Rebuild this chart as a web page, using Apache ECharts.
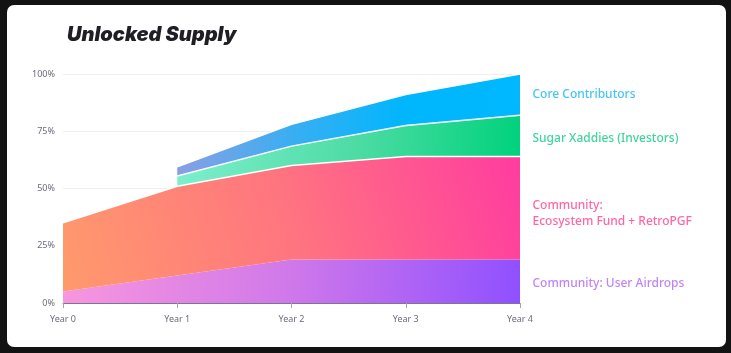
<!DOCTYPE html>
<html>
<head>
<meta charset="utf-8">
<script src="https://cdn.jsdelivr.net/npm/echarts@6/dist/echarts.min.js"></script>
<style>
html,body{margin:0;padding:0;background:#131313;width:731px;height:353px;overflow:hidden;}
#card{position:absolute;left:7px;top:5px;width:719px;height:342px;background:#fff;border-radius:7px;}
#chart{position:absolute;left:0;top:0;width:731px;height:353px;}
</style>
</head>
<body>
<div id="card"></div>
<div id="chart"></div>
<script>
const categories = ['Year 0', 'Year 1', 'Year 2', 'Year 3', 'Year 4'];
const airdrops = [5, 12, 19, 19, 19];
const ecosystem = [30, 39, 41, 45, 45];
const investors = [null, 4.5, 8.5, 13.5, 18];
const core = [null, 4, 9.5, 13.5, 18];
const yTickLabels = ['0%', '25%', '50%', '75%', '100%'];

const names = {
  airdrops: 'Community: User Airdrops',
  ecosystem: 'Community:\nEcosystem Fund + RetroPGF',
  investors: 'Sugar Xaddies (Investors)',
  core: 'Core Contributors'
};

const last = categories.length - 1;
const a4 = airdrops[last], e4 = ecosystem[last], i4 = investors[last], c4 = core[last];
const labelPoints = [
  {value: [last, a4 / 2], text: names.airdrops, color: '#b065f2', dy: 2},
  {value: [last, a4 + e4 / 2], text: names.ecosystem, color: '#ff3f8e', dy: 6},
  {value: [last, a4 + e4 + i4 / 2], text: names.investors, color: '#0ec984', dy: 3},
  {value: [last, a4 + e4 + i4 + c4 / 2], text: names.core, color: '#14b5f5', dy: 0}
];

function grad(x, y, x2, y2, stops) {
  return new echarts.graphic.LinearGradient(x, y, x2, y2, stops.map((c, i) => ({offset: i / (stops.length - 1), color: c})));
}

const chart = echarts.init(document.getElementById('chart'), null, {renderer: 'canvas'});
const whiteLine = {color: '#ffffff', width: 1.5};

chart.setOption({
  animation: false,
  title: {
    text: 'Unlocked Supply',
    left: 62, top: 20,
    textStyle: {fontFamily: 'Inter', fontSize: 20, fontWeight: 900, fontStyle: 'italic', color: '#1e1e24'}
  },
  grid: {left: 63, right: 211, top: 74, bottom: 50},
  xAxis: {
    type: 'category',
    data: categories,
    boundaryGap: false,
    axisLine: {lineStyle: {color: '#7e7592', width: 1}},
    axisTick: {show: true, length: 5, lineStyle: {color: '#a8a3b3'}},
    axisLabel: {color: '#6c6c7c', fontSize: 9, margin: 12, fontFamily: 'Noto Sans'},
    splitLine: {show: false}
  },
  yAxis: {
    type: 'value',
    min: 0, max: 100, interval: 25,
    axisLine: {show: false},
    axisTick: {show: false},
    axisLabel: {
      color: '#6c6c7c', fontSize: 9, margin: 8, fontFamily: 'Noto Sans',
      formatter: (v) => yTickLabels[Math.round(v / 25)]
    },
    splitLine: {lineStyle: {color: '#efeff2', width: 1}}
  },
  series: [
    {
      name: names.airdrops, type: 'line', stack: 'total', data: airdrops,
      symbol: 'none', lineStyle: {width: 0},
      areaStyle: {opacity: 1, color: grad(0, 0.2, 1, 0.8, ['#f896de', '#cf78ea', '#8f50ff'])}
    },
    {
      name: names.ecosystem, type: 'line', stack: 'total', data: ecosystem,
      symbol: 'none', lineStyle: whiteLine,
      areaStyle: {opacity: 1, color: grad(0, 1, 1, 0, ['#ff9a6c', '#ff7480', '#ff3ca0'])}
    },
    {
      name: names.investors, type: 'line', stack: 'total', data: investors,
      symbol: 'none', lineStyle: whiteLine, connectNulls: false,
      areaStyle: {opacity: 1, color: grad(0, 0.3, 1, 0.7, ['#7eefcd', '#50dca6', '#00d27c'])}
    },
    {
      name: names.core, type: 'line', stack: 'total', data: core,
      symbol: 'none', lineStyle: whiteLine, connectNulls: false,
      areaStyle: {opacity: 1, color: grad(0, 0.5, 1, 0.5, ['#8a9fe4', '#3aaef2', '#00b6fd', '#00b8ff'])}
    },
    {
      type: 'scatter', symbolSize: 1, itemStyle: {color: 'rgba(0,0,0,0)'}, silent: true,
      data: labelPoints.map(p => ({
        value: p.value,
        label: {
          show: true, position: 'right', distance: 12, offset: [0, p.dy],
          formatter: p.text, color: p.color,
          fontSize: 12, lineHeight: 16, fontFamily: 'Noto Sans', fontWeight: 500
        }
      }))
    }
  ]
});
</script>
</body>
</html>
